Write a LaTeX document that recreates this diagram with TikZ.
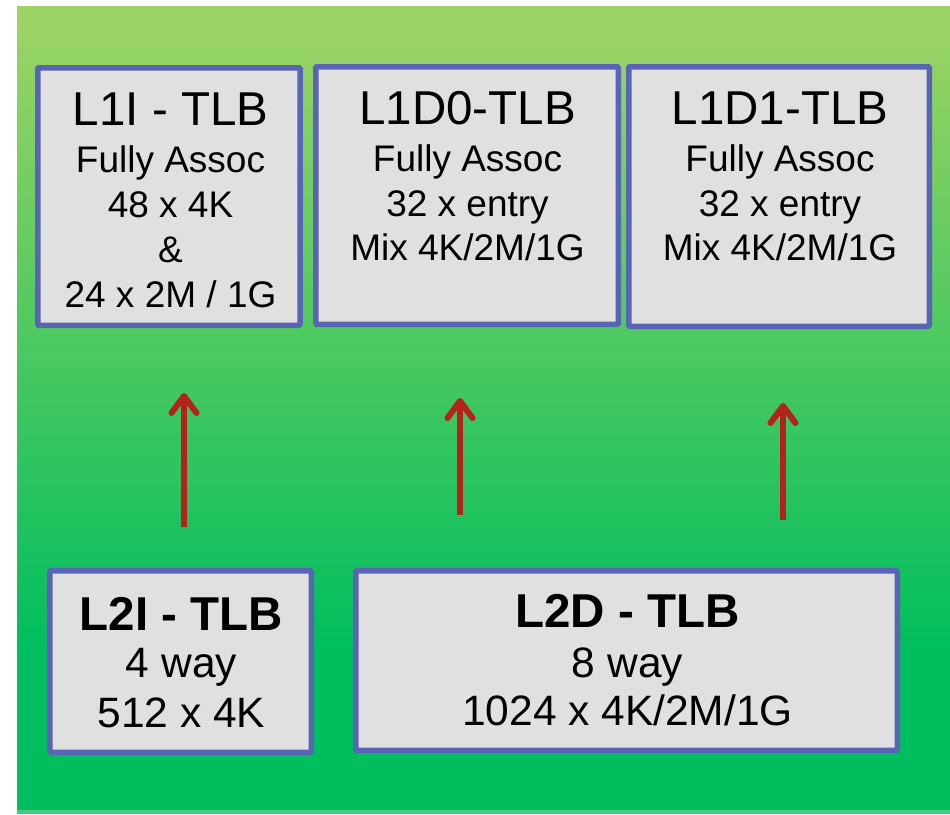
\documentclass[tikz,border=0pt]{standalone}
\usepackage{fontspec}
\setmainfont{Liberation Sans}
\usetikzlibrary{arrows.meta}

\definecolor{bgtop}{RGB}{160,212,100}
\definecolor{bgbot}{RGB}{0,190,94}
\definecolor{bgstrip}{RGB}{70,200,125}
\definecolor{boxfill}{RGB}{224,224,224}
\definecolor{boxedge}{RGB}{90,100,180}
\definecolor{arrowred}{RGB}{180,34,26}

\tikzset{
  tlbbox/.style={draw=boxedge, fill=boxfill, line width=5.5pt, rectangle, inner sep=0pt, rounded corners=1pt},
  txt/.style={anchor=base, inner sep=0pt, text=black},
  ttl/.style={txt, font=\fontsize{47.5}{50}\selectfont},
  ttlb/.style={txt, font=\fontsize{47.5}{50}\selectfont\bfseries},
  bodya/.style={txt, font=\fontsize{37}{40}\selectfont},
  bodyb/.style={txt, font=\fontsize{42.5}{45}\selectfont},
  uparrow/.style={draw=arrowred, line width=6pt,
    -{Straight Barb[length=17pt,width=25pt,line cap=round,line join=round]}},
}

\begin{document}
\begin{tikzpicture}[x=1pt,y=-1pt]
\useasboundingbox (0,0) rectangle (950,814);

% green backdrop
\shade[top color=bgtop, bottom color=bgbot] (17,6) rectangle (950,650);
\fill[bgbot] (17,649.5) rectangle (950,810);
\fill[bgstrip] (17,810) rectangle (950,814);

% first-level TLBs
\node[tlbbox, minimum width=262.2pt, minimum height=257.5pt] (l1i) at (168.9,196.5) {};
\node[tlbbox, minimum width=302.5pt, minimum height=257.5pt] (l1d0) at (467,195.5) {};
\node[tlbbox, minimum width=300.5pt, minimum height=259.5pt] (l1d1) at (779,196.5) {};

% second-level TLBs
\node[tlbbox, minimum width=261.5pt, minimum height=181.5pt] (l2i) at (180.5,661.5) {};
\node[tlbbox, minimum width=541.5pt, minimum height=179.5pt] (l2d) at (626.5,660.5) {};

% L1I text
\node[ttl]   (l1i-t) at (170.5,125) {L1I - TLB};
\node[bodya] (l1i-a) at (170.5,172) {Fully Assoc};
\node[bodya] (l1i-b) at (170.5,217) {48 x 4K};
\node[bodya] (l1i-c) at (170.5,262) {\&};
\node[bodya] (l1i-d) at (170.5,307) {24 x 2M / 1G};

% L1D0 text
\node[ttl]   (l1d0-t) at (467.5,124) {L1D0-TLB};
\node[bodya] (l1d0-a) at (467.5,171) {Fully Assoc};
\node[bodya] (l1d0-b) at (467.5,216) {32 x entry};
\node[bodya] (l1d0-c) at (467.5,260) {Mix 4K/2M/1G};

% L1D1 text
\node[ttl]   (l1d1-t) at (780,124) {L1D1-TLB};
\node[bodya] (l1d1-a) at (780,171) {Fully Assoc};
\node[bodya] (l1d1-b) at (780,216) {32 x entry};
\node[bodya] (l1d1-c) at (780,260) {Mix 4K/2M/1G};

% L2I text
\node[ttlb]  (l2i-t) at (181.5,630) {L2I - TLB};
\node[bodyb] (l2i-a) at (181.5,677) {4 way};
\node[bodyb] (l2i-b) at (181.5,727) {512 x 4K};

% L2D text
\node[ttlb]  (l2d-t) at (627.5,627) {L2D - TLB};
\node[bodyb] (l2d-a) at (627.5,677) {8 way};
\node[bodyb] (l2d-b) at (627.5,725) {1024 x 4K/2M/1G};

% fill paths from L2 up to L1
\coordinate (a1s) at (184,527);  \coordinate (a1e) at (184,393);
\coordinate (a2s) at (460,515);  \coordinate (a2e) at (460,398);
\coordinate (a3s) at (783,520);  \coordinate (a3e) at (783,403);
\draw[uparrow] (a1s) -- (a1e);
\draw[uparrow] (a2s) -- (a2e);
\draw[uparrow] (a3s) -- (a3e);
\end{tikzpicture}
\end{document}
